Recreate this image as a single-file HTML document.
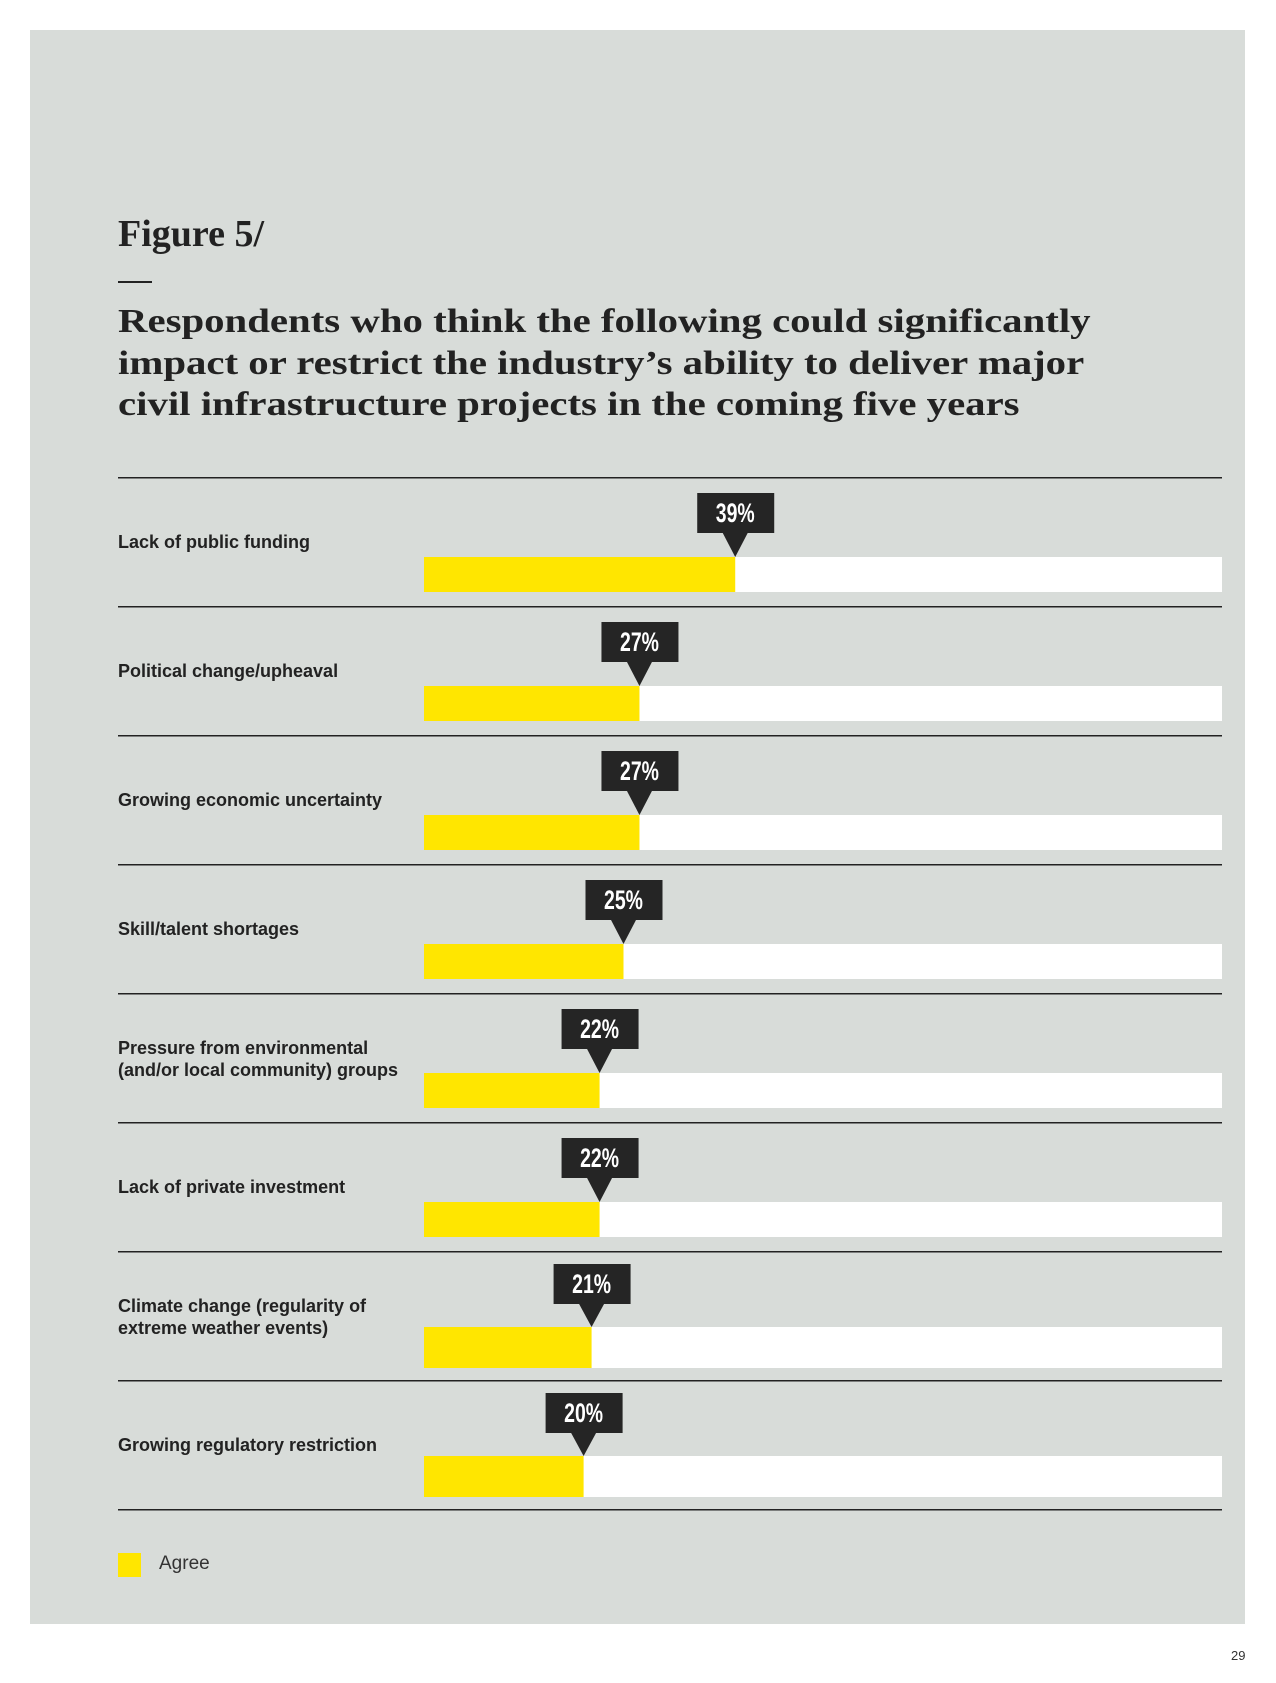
<!DOCTYPE html>
<html><head><meta charset="utf-8"><style>
html,body{margin:0;padding:0;background:#fff;}
body{width:1276px;height:1683px;position:relative;overflow:hidden;font-family:"Liberation Sans",sans-serif;}
#panel{position:absolute;left:30px;top:30px;width:1215px;height:1594px;background:#d8dcd9;}
.serif{font-family:"Liberation Serif",serif;font-weight:bold;color:#222;position:absolute;left:118px;margin:0;white-space:nowrap;}
</style></head><body>
<div id="panel"></div>
<div class="serif" style="top:212px;font-size:38px;">Figure 5/</div>
<div style="position:absolute;left:118px;top:281px;width:34px;height:2px;background:#222"></div>
<div class="serif" style="top:301px;font-size:34px;line-height:41.5px;transform:scaleX(1.2);transform-origin:0 0;">Respondents who think the following could significantly<br>impact or restrict the industry’s ability to deliver major<br>civil infrastructure projects in the coming five years</div>
<svg id="chart" width="1276" height="1683" style="position:absolute;left:0;top:0"></svg>
<div style="position:absolute;left:118px;top:1553px;width:23px;height:24px;background:#ffe600"></div>
<div style="position:absolute;left:159px;top:1553px;font-size:19px;color:#333">Agree</div>
<div style="position:absolute;left:1231px;top:1648px;font-size:13px;color:#333">29</div>
<script>
const categories=[["Lack of public funding"],["Political change/upheaval"],["Growing economic uncertainty"],["Skill/talent shortages"],["Pressure from environmental","(and/or local community) groups"],["Lack of private investment"],["Climate change (regularity of","extreme weather events)"],["Growing regulatory restriction"]];
const agreeValues=[39,27,27,25,22,22,21,20];
const valueLabels=["39%","27%","27%","25%","22%","22%","21%","20%"];
const svg=document.getElementById('chart');
const NS='http://www.w3.org/2000/svg';
const x0=424,x1=1222,top0=478,pitch=129;
const xs=v=>x0+(x1-x0)*v/100;
function mk(t,a){const e=document.createElementNS(NS,t);for(const k in a)e.setAttribute(k,a[k]);svg.appendChild(e);return e;}
for(let i=0;i<=categories.length;i++){
  const l=mk('rect',{x:118,y:top0+i*pitch-1,width:1104,height:1.5,fill:'#222'});
  
  
}
categories.forEach((c,i)=>{
  const r=top0+i*pitch;
  const late=i>=6;
  const by=r+(late?75:79), bh=late?41:35;
  const bg=mk('rect',{x:x0,y:by,width:x1-x0,height:bh,fill:'#fff'});
  
  
  const xe=xs(agreeValues[i]);
  const b=mk('rect',{x:x0,y:by,width:xe-x0,height:bh,fill:'#ffe600'});
  
  
  const bx=r+(late?12:15);
  const box=mk('rect',{x:xe-38,y:bx,width:77,height:40,fill:'#252525'});
  
  
  const tri=mk('polygon',{points:`${xe-13},${bx+39} ${xe+13},${bx+39} ${xe},${by}`,fill:'#252525'});
  
  
  const t=mk('text',{x:0,y:0,'font-size':27,'font-weight':'bold',fill:'#fff','text-anchor':'middle',transform:`translate(${xe},${bx+29}) scale(0.72,1)`,'font-family':'Liberation Sans, sans-serif'});
  t.textContent=valueLabels[i];
  
  
  c.forEach((line,j)=>{
    const lt=mk('text',{x:118,y:(c.length>1?r+60:r+70)+j*22,'font-size':18,'font-weight':'bold',fill:'#222','font-family':'Liberation Sans, sans-serif'});
    lt.textContent=line;
    
    
  });
});
</script>
</body></html>
